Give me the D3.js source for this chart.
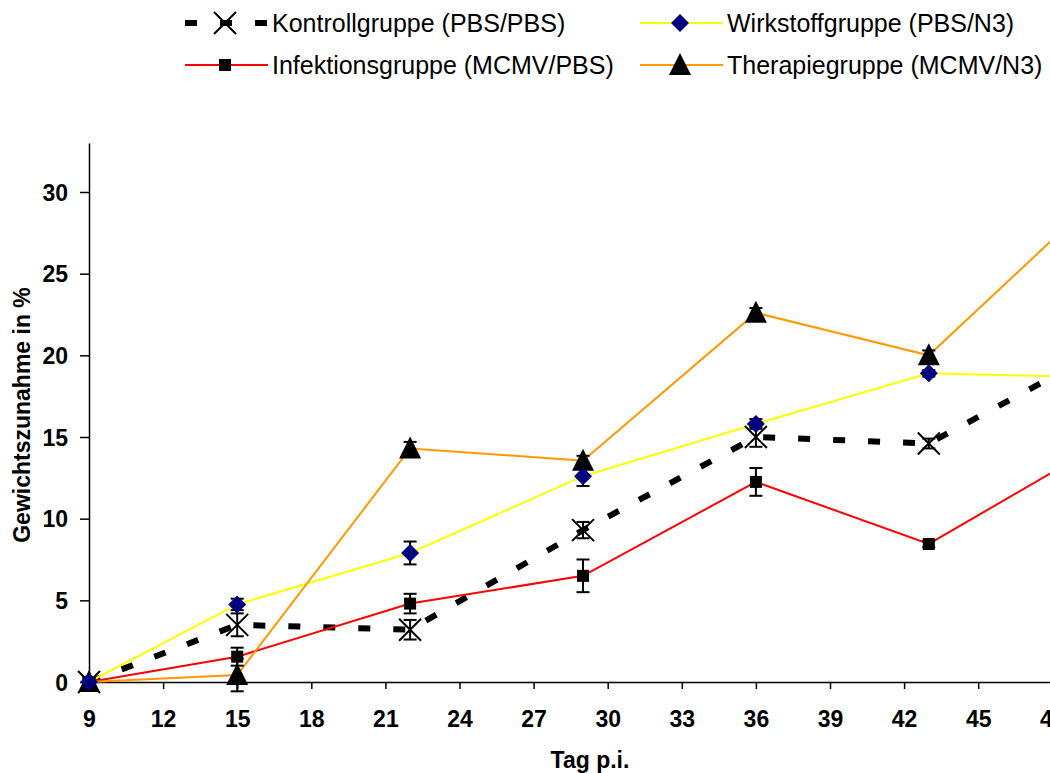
<!DOCTYPE html>
<html>
<head>
<meta charset="utf-8">
<script src="https://cdn.jsdelivr.net/npm/d3@7"></script>
<style>
  body { margin: 0; background: #fff; overflow: hidden; }
  svg { display: block; font-family: "Liberation Sans", Arial, sans-serif; }
  .tick text { font-weight: bold; font-size: 23px; fill: #000; }
</style>
</head>
<body>
<div id="chart"></div>
<script>
// data (day 50 lies outside the visible area)
var days = [9, 15, 22, 29, 36, 43, 50];
var kontroll = [0, 3.5, 3.2, 9.3, 15.0, 14.6, 20.3];
var kontrollErr = [0.3, 0.7, 0.6, 0.5, 0.6, 0.3, 0.5];
var wirkstoff = [0, 4.75, 7.9, 12.6, 15.8, 18.9, 18.65];
var wirkstoffErr = [0.2, 0.35, 0.7, 0.6, 0.3, 0.2, 0.4];
var infektion = [0, 1.55, 4.8, 6.5, 12.25, 8.45, 14.6];
var infektionErr = [0.2, 0.55, 0.6, 1.0, 0.85, 0.2, 0.5];
var therapie = [0, 0.43, 14.3, 13.55, 22.6, 20.0, 29.9];
var therapieErr = [0.3, 1.0, 0.4, 0.3, 0.3, 0.3, 0.5];
var xTicks = d3.range(9, 52, 3);
var yTicks = [0, 5, 10, 15, 20, 25, 30];

var series = [
  { name: "Kontrollgruppe (PBS/PBS)", values: kontroll, err: kontrollErr, color: "#000", width: 6, dash: "12,23", marker: "x" },
  { name: "Wirkstoffgruppe (PBS/N3)", values: wirkstoff, err: wirkstoffErr, color: "#ffff00", width: 2, dash: null, marker: "diamond" },
  { name: "Infektionsgruppe (MCMV/PBS)", values: infektion, err: infektionErr, color: "#ff0000", width: 2, dash: null, marker: "square" },
  { name: "Therapiegruppe (MCMV/N3)", values: therapie, err: therapieErr, color: "#ff9900", width: 2, dash: null, marker: "triangle" }
];

var width = 1050, height = 773;

var svg = d3.select("#chart")
  .append("svg")
  .attr("width", width)
  .attr("height", height);

// scales
var x = d3.scaleLinear().domain([9, 51]).range([89, 89 + 42 * 24.7]);
var y = d3.scaleLinear().domain([0, 33]).range([682, 143]);

// axes
var xAxis = svg.append("g")
  .attr("transform", "translate(0," + y(0) + ")")
  .call(d3.axisBottom(x).tickValues(xTicks).tickSize(7).tickSizeOuter(0).tickPadding(22));
var yAxis = svg.append("g")
  .attr("transform", "translate(" + x(9) + ",0)")
  .call(d3.axisLeft(y).tickValues(yTicks).tickSize(9).tickSizeOuter(0).tickPadding(12));
svg.selectAll(".domain, .tick line").attr("stroke", "#000").attr("stroke-width", 1.5);
yAxis.selectAll(".tick text").attr("dy", "0.36em");

// axis titles
svg.append("text")
  .attr("x", 590).attr("y", 768)
  .attr("text-anchor", "middle")
  .style("font-weight", "bold").style("font-size", "23px")
  .text("Tag p.i.");
svg.append("text")
  .attr("transform", "translate(30,415) rotate(-90)")
  .attr("text-anchor", "middle")
  .style("font-weight", "bold").style("font-size", "23px")
  .text("Gewichtszunahme in %");

// marker drawing
function drawMarker(g, type, cx, cy) {
  if (type === "x") {
    g.append("path")
      .attr("d", "M" + (cx - 11) + "," + (cy - 11) + "L" + (cx + 11) + "," + (cy + 11) +
        "M" + (cx + 11) + "," + (cy - 11) + "L" + (cx - 11) + "," + (cy + 11))
      .attr("stroke", "#000").attr("stroke-width", 2).attr("fill", "none");
  } else if (type === "diamond") {
    g.append("path")
      .attr("d", "M" + cx + "," + (cy - 9) + "L" + (cx + 9) + "," + cy + "L" + cx + "," + (cy + 9) + "L" + (cx - 9) + "," + cy + "Z")
      .attr("fill", "#000080");
  } else if (type === "square") {
    g.append("rect")
      .attr("x", cx - 6).attr("y", cy - 6).attr("width", 12).attr("height", 12)
      .attr("fill", "#000");
  } else if (type === "triangle") {
    g.append("path")
      .attr("d", "M" + cx + "," + (cy - 12) + "L" + (cx + 11) + "," + (cy + 10) + "L" + (cx - 11) + "," + (cy + 10) + "Z")
      .attr("fill", "#000");
  }
}

var line = d3.line()
  .x(function (d, i) { return x(days[i]); })
  .y(function (d) { return y(d); });

// lines
series.forEach(function (s) {
  svg.append("path")
    .datum(s.values)
    .attr("d", line)
    .attr("fill", "none")
    .attr("stroke", s.color)
    .attr("stroke-width", s.width)
    .attr("stroke-dasharray", s.dash);
});

// error bars
series.forEach(function (s) {
  var g = svg.append("g").attr("stroke", "#000").attr("stroke-width", 2);
  s.values.forEach(function (v, i) {
    var cx = x(days[i]), lo = y(v - s.err[i]), hi = y(v + s.err[i]);
    g.append("line").attr("x1", cx).attr("x2", cx).attr("y1", lo).attr("y2", hi);
    g.append("line").attr("x1", cx - 6.5).attr("x2", cx + 6.5).attr("y1", lo).attr("y2", lo);
    g.append("line").attr("x1", cx - 6.5).attr("x2", cx + 6.5).attr("y1", hi).attr("y2", hi);
  });
});

// markers
[0, 2, 3, 1].forEach(function (k) {
  var s = series[k];
  var g = svg.append("g");
  s.values.forEach(function (v, i) {
    drawMarker(g, s.marker, x(days[i]), y(v));
  });
});

// legend
var legendPos = [[185, 23], [640, 23], [185, 65], [640, 65]];
series.forEach(function (s, i) {
  var lx = legendPos[i][0], ly = legendPos[i][1];
  var g = svg.append("g");
  g.append("line")
    .attr("x1", lx).attr("x2", lx + 83).attr("y1", ly).attr("y2", ly)
    .attr("stroke", s.color)
    .attr("stroke-width", s.dash ? 6 : 2)
    .attr("stroke-dasharray", s.dash);
  drawMarker(g, s.marker, lx + 40, ly);
  g.append("text")
    .attr("x", lx + 87).attr("y", ly)
    .attr("dy", "0.36em")
    .style("font-size", "25px")
    .text(s.name);
});
</script>
</body>
</html>
